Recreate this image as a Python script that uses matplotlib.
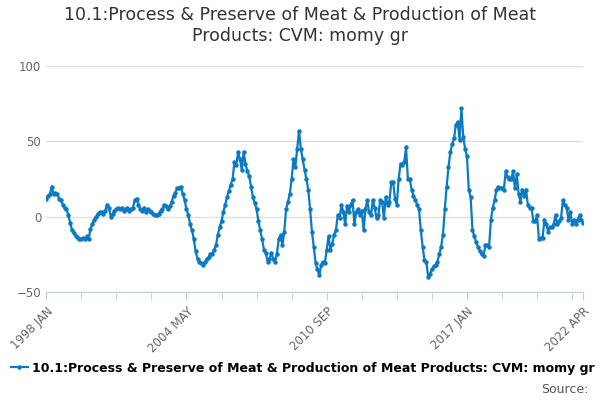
import numpy as np
import matplotlib.pyplot as plt

title = '10.1:Process & Preserve of Meat & Production of Meat\nProducts: CVM: momy gr'
series_name = '10.1:Process & Preserve of Meat & Production of Meat Products: CVM: momy gr'

# monthly values, 1998 JAN .. 2022 APR
values = [
    12, 14, 15, 20, 15, 16, 15, 12, 11, 8, 6, 5,
    1, -4, -9, -11, -13, -14, -15, -15, -14, -15, -13, -15,
    -8, -5, -2, 0, 2, 3, 3, 2, 4, 8, 6, 0,
    2, 4, 5, 6, 5, 6, 4, 5, 6, 4, 5, 6,
    11, 12, 8, 5, 4, 6, 3, 5, 4, 3, 2, 1,
    1, 2, 4, 5, 8, 7, 5, 7, 10, 14, 16, 19,
    19, 20, 15, 11, 5, 1, -5, -9, -15, -23, -28, -30,
    -31, -32, -30, -28, -27, -25, -25, -22, -19, -12, -7, -3,
    3, 8, 13, 17, 21, 25, 36, 34, 43, 38, 31, 43,
    35, 30, 27, 20, 13, 9, 5, -3, -9, -15, -22, -24,
    -30, -28, -24, -28, -30, -25, -15, -12, -19, -10, 5, 10,
    15, 25, 38, 33, 45, 57, 45, 38, 31, 25, 18, 5,
    -10, -20, -31, -35, -39, -32, -30, -31, -22, -13, -22, -18,
    -12, -9, 1, -1, 8, 3, -5, 7, 3, 8, 11, -5,
    3, 5, 1, 4, -9, 5, 11, 3, 1, 11, 6, -1,
    1, 11, 10, -1, 13, 8, 10, 23, 23, 12, 8, 25,
    35, 34, 36, 46, 25, 25, 18, 14, 11, 8, 5, -9,
    -20, -29, -30, -40, -38, -35, -33, -32, -30, -25, -20, -12,
    5, 20, 33, 43, 48, 52, 61, 63, 51, 72, 53, 45,
    40, 18, 13, -9, -13, -17, -20, -23, -25, -26, -19, -19,
    -20, -2, 6, 11, 18, 20, 19, 19, 18, 30, 26, 25,
    25, 30, 19, 28, 15, 10, 18, 14, 18, 8, 6, 6,
    -3, -3, 1, -15, -14, -14, -2, -5, -10, -7, -7, -5,
    1, -5, -3, -1, 11, 8, 6, -2, 3, -5, -2, -5,
    -2, 1, -2, -4,
]
tick_pos = [0, 76, 152, 228, 291]
tick_labels = ['1998 JAN', '2004 MAY', '2010 SEP', '2017 JAN', '2022 APR']

col = '#0a7ac2'
fig = plt.figure(figsize=(6, 4), dpi=100)
ax = fig.add_axes([0.077, 0.27, 0.895, 0.565])
x = np.arange(len(values))
ax.plot(x, values, color=col, lw=1.6, marker='o', ms=2.2, label=series_name)
ax.set_xlim(0, len(values) - 1)
ax.set_ylim(-50, 100)
ax.set_yticks([-50, 0, 50, 100])
ax.tick_params(axis='y', length=0, labelsize=8.5, colors='#666666')
ax.set_xticks(np.arange(0, len(values), 19), minor=True)
ax.set_xticks(tick_pos)
ax.set_xticklabels(tick_labels, rotation=45, ha='right', rotation_mode='anchor', fontsize=8.5, color='#666666')
ax.tick_params(axis='x', which='both', length=6, color='#c0d0e0')
ax.grid(axis='y', color='#e0e0e0', lw=1)
ax.set_axisbelow(True)
for s in ['top', 'right', 'left']:
    ax.spines[s].set_visible(False)
ax.spines['bottom'].set_color('#c0d0e0')

fig.suptitle(title, y=0.985, fontsize=12.5, color='#333333')
fig.legend(loc='lower left', bbox_to_anchor=(0.0, 0.035), frameon=False,
           prop={'weight': 'bold', 'size': 9}, handlelength=1.3, handletextpad=0.4)
fig.text(0.98, 0.01, 'Source:', ha='right', va='bottom', fontsize=9, color='#555555')
fig.savefig('out.png')
